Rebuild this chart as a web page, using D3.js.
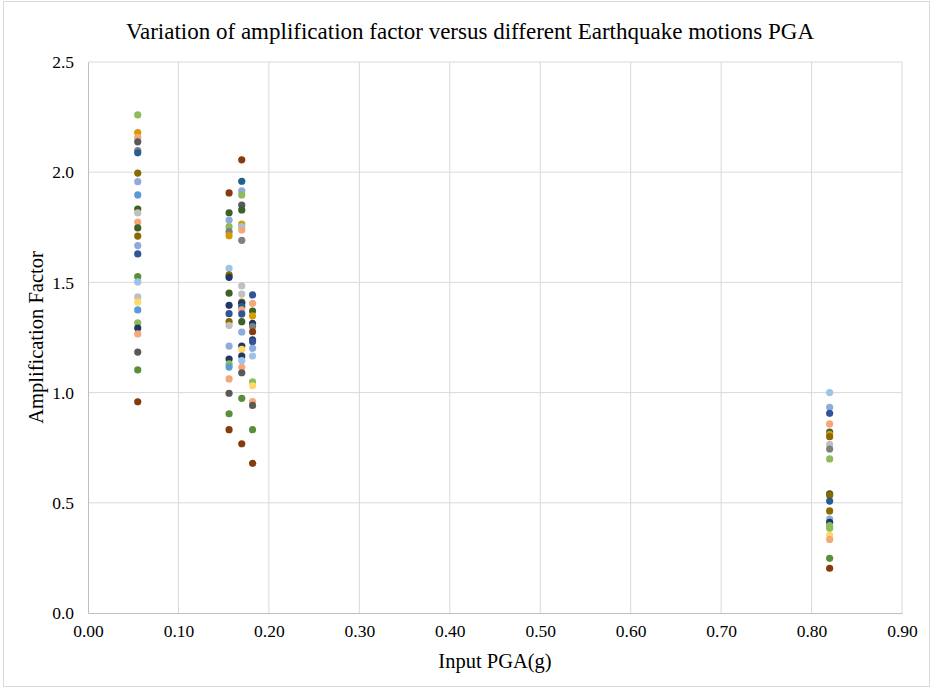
<!DOCTYPE html>
<html>
<head>
<meta charset="utf-8">
<script src="https://cdn.jsdelivr.net/npm/d3@7"></script>
<style>
  body { margin: 0; background: #fff; }
  text { font-family: "Liberation Serif", "Times New Roman", serif; fill: #000; }
</style>
</head>
<body>
<div id="chart"></div>
<script>
// input PGA (g) of each group of points
const pgaLevels = [0.055, 0.156, 0.170, 0.182, 0.820];

// amplification factors read for each PGA level, with the colour of each marker
const af055 = [2.26, 2.18, 2.157, 2.138, 2.098, 2.088, 1.996, 1.957, 1.897, 1.833, 1.815, 1.774, 1.747, 1.710, 1.667, 1.629, 1.526, 1.502, 1.434, 1.411, 1.375, 1.316, 1.293, 1.266, 1.184, 1.103, 0.958];
const col055 = ['ltgreen', 'gold', 'ltorange', 'dkgray', 'gray', 'dkblue', 'olive', 'lavender', 'ltblue', 'dkgreen', 'ltgray', 'ltorange', 'dkgreen', 'olive', 'lavender', 'blue2', 'green', 'skyblue', 'ltgray', 'yellow', 'ltblue', 'ltgreen', 'navy', 'ltorange', 'dkgray', 'green', 'brown'];

const af156 = [1.906, 1.816, 1.783, 1.753, 1.730, 1.712, 1.564, 1.534, 1.523, 1.451, 1.396, 1.358, 1.322, 1.304, 1.211, 1.152, 1.130, 1.116, 1.062, 0.997, 0.904, 0.832];
const col156 = ['brown', 'dkgreen', 'lavender', 'ltgreen', 'gray', 'gold', 'skyblue', 'olive', 'navy', 'dkgreen', 'navy', 'blue2', 'olive', 'ltgray', 'lavender', 'navy', 'ltgreen', 'ltblue', 'ltorange', 'dkgray', 'green', 'brown'];

const af170 = [2.056, 1.959, 1.915, 1.897, 1.851, 1.829, 1.764, 1.753, 1.738, 1.691, 1.484, 1.447, 1.411, 1.405, 1.390, 1.375, 1.357, 1.322, 1.275, 1.211, 1.196, 1.166, 1.145, 1.115, 1.090, 0.974, 0.768];
const col170 = ['brown', 'dkblue', 'lavender', 'ltgreen', 'dkgray', 'dkgreen', 'gold', 'skyblue', 'ltorange', 'gray', 'ltgray', 'ltgray', 'olive', 'navy', 'dkblue', 'ltorange', 'blue2', 'dkgreen', 'lavender', 'navy', 'yellow', 'navy', 'skyblue', 'ltorange', 'dkgray', 'green', 'brown'];

const af182 = [1.443, 1.405, 1.370, 1.348, 1.314, 1.300, 1.276, 1.239, 1.231, 1.201, 1.166, 1.049, 1.031, 0.959, 0.942, 0.832, 0.679];
const col182 = ['blue2', 'ltorange', 'dkgreen', 'gold', 'navy', 'gray', 'brown', 'navy', 'blue2', 'lavender', 'skyblue', 'ltgreen', 'yellow', 'ltorange', 'dkgray', 'green', 'brown'];

const af820 = [1.000, 0.933, 0.906, 0.858, 0.821, 0.811, 0.800, 0.765, 0.744, 0.699, 0.541, 0.534, 0.508, 0.463, 0.426, 0.411, 0.396, 0.384, 0.354, 0.334, 0.248, 0.203];
const col820 = ['skyblue', 'lavender', 'blue2', 'ltorange', 'dkgreen', 'gold', 'olive', 'ltgray', 'gray', 'ltgreen', 'dkgreen', 'olive', 'dkblue', 'olive', 'lavender', 'navy', 'ltgreen', 'ltgreen', 'yellow', 'ltorange', 'green', 'brown'];

const xTicks = [0, 0.1, 0.2, 0.3, 0.4, 0.5, 0.6, 0.7, 0.8, 0.9];
const yTicks = [0, 0.5, 1.0, 1.5, 2.0, 2.5];

const palette = {
    ltgreen: '#8fbc5a', gold: '#d69b00', ltorange: '#f4a77a', dkgray: '#595959', gray: '#7f7f7f',
    dkblue: '#255e91', olive: '#8a6a00', lavender: '#8faadc', ltblue: '#5b9bd5', dkgreen: '#3e6128',
    ltgray: '#c0c0c0', green: '#5a8f3a', skyblue: '#9dc3e6', yellow: '#ffd966', navy: '#1f3864',
    blue2: '#2f5597', brown: '#843c0c'
};

const groups = [
    { pga: pgaLevels[0], af: af055, col: col055 },
    { pga: pgaLevels[1], af: af156, col: col156 },
    { pga: pgaLevels[2], af: af170, col: col170 },
    { pga: pgaLevels[3], af: af182, col: col182 },
    { pga: pgaLevels[4], af: af820, col: col820 }
];
const points = groups.flatMap(g => g.af.map((v, i) => ({ pga: g.pga, af: v, color: palette[g.col[i]] })));

const W = 933, H = 688;
const margin = { top: 62, right: 31, bottom: 75, left: 88 };
const width = W - margin.left - margin.right;
const height = H - margin.top - margin.bottom;

const root = d3.select('#chart').append('svg').attr('width', W).attr('height', H);

root.append('rect')
    .attr('x', 3.5).attr('y', 1.5).attr('width', W - 7).attr('height', H - 3)
    .attr('fill', '#fff').attr('stroke', '#d9d9d9');

const svg = root.append('g').attr('transform', `translate(${margin.left},${margin.top})`);

const x = d3.scaleLinear().domain([0, 0.9]).range([0, width]);
const y = d3.scaleLinear().domain([0, 2.5]).range([height, 0]);

// gridlines
svg.append('g').selectAll('line').data(xTicks.slice(1)).join('line')
    .attr('x1', d => x(d)).attr('x2', d => x(d)).attr('y1', 0).attr('y2', height)
    .attr('stroke', '#d9d9d9');
svg.append('g').selectAll('line').data(yTicks.slice(1)).join('line')
    .attr('x1', 0).attr('x2', width).attr('y1', d => y(d)).attr('y2', d => y(d))
    .attr('stroke', '#d9d9d9');

// axes
const xAxis = svg.append('g')
    .attr('transform', `translate(0,${height})`)
    .call(d3.axisBottom(x).tickValues(xTicks).tickFormat(d3.format('.2f')).tickSize(0).tickPadding(12));
const yAxis = svg.append('g')
    .call(d3.axisLeft(y).tickValues(yTicks).tickFormat(d3.format('.1f')).tickSize(0).tickPadding(14));
[xAxis, yAxis].forEach(a => {
    a.select('.domain').attr('stroke', '#bfbfbf');
    a.selectAll('text').style('font-family', '"Liberation Serif", serif').style('font-size', '17.5px').attr('fill', '#000');
});

svg.selectAll('circle')
    .data(points)
    .join('circle')
    .attr('cx', d => x(d.pga))
    .attr('cy', d => y(d.af))
    .attr('r', 3.6)
    .attr('fill', d => d.color);

root.append('text')
    .attr('x', 470).attr('y', 39)
    .attr('text-anchor', 'middle')
    .style('font-size', '23px')
    .text('Variation of amplification factor versus different Earthquake motions PGA');

root.append('text')
    .attr('x', margin.left + width / 2).attr('y', 668)
    .attr('text-anchor', 'middle')
    .style('font-size', '20.5px')
    .text('Input PGA(g)');

root.append('text')
    .attr('transform', `translate(43,${margin.top + height / 2}) rotate(-90)`)
    .attr('text-anchor', 'middle')
    .style('font-size', '20.5px')
    .text('Amplification Factor');
</script>
</body>
</html>
